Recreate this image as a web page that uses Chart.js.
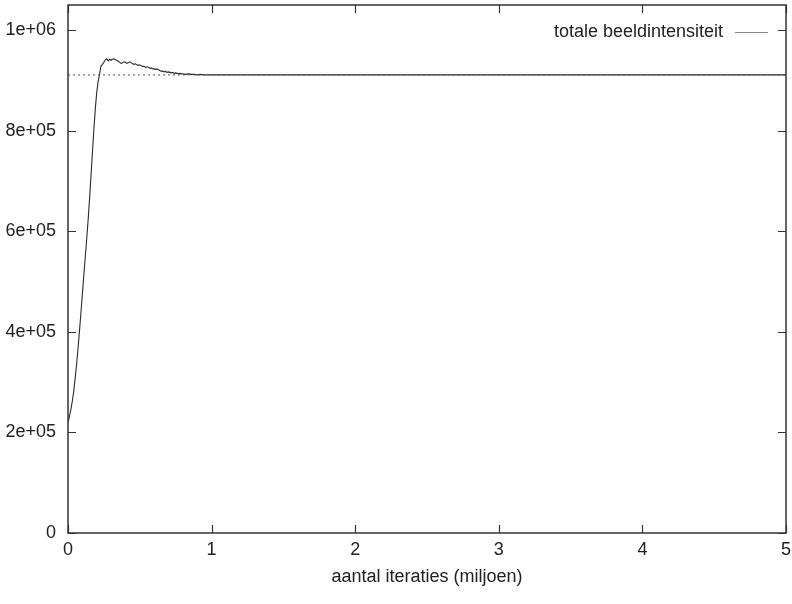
<!DOCTYPE html>
<html>
<head>
<meta charset="utf-8">
<script src="https://cdn.jsdelivr.net/npm/chart.js@4.4.1/dist/chart.umd.min.js"></script>
<style>
  html, body { margin: 0; padding: 0; background: #fff; }
</style>
</head>
<body>
<canvas id="chart" width="792" height="604"></canvas>
<script>
// x in millions of iterations, y = total image intensity
const iterations = [
  0, 0.01, 0.02, 0.03, 0.04, 0.05, 0.06, 0.07, 0.08, 0.09,
  0.10, 0.11, 0.12, 0.13, 0.14, 0.15, 0.16, 0.17, 0.18, 0.19,
  0.20, 0.21, 0.22, 0.23, 0.24, 0.25, 0.26, 0.27, 0.28, 0.29,
  0.30, 0.31, 0.32, 0.33, 0.34, 0.35, 0.36, 0.37, 0.38, 0.39,
  0.40, 0.41, 0.42, 0.43, 0.44, 0.45, 0.46, 0.47, 0.48, 0.49,
  0.50, 0.51, 0.52, 0.53, 0.54, 0.55, 0.56, 0.57, 0.58, 0.59,
  0.60, 0.61, 0.62, 0.63, 0.64, 0.65, 0.66, 0.67, 0.68, 0.69,
  0.70, 0.71, 0.72, 0.73, 0.74, 0.75, 0.76, 0.77, 0.78, 0.79,
  0.80, 0.82, 0.84, 0.86, 0.88, 0.90, 0.92, 0.94, 0.96, 0.98,
  1.0, 1.5, 2.0, 2.5, 3.0, 3.5, 4.0, 4.5, 5.0
];
const intensity = [
  220000, 232000, 246000, 262000, 282000, 308000, 336000, 368000, 402000, 438000,
  475000, 512000, 548000, 584000, 622000, 664000, 710000, 756000, 802000, 843000,
  876000, 898000, 913000, 929000, 932000, 936000, 941000, 943000, 939000, 942000,
  940000, 942000, 943000, 941000, 940000, 938000, 936000, 934000, 935000, 937000,
  936000, 934000, 935000, 937000, 935000, 933000, 932000, 933000, 931000, 930000,
  931000, 929000, 928000, 928000, 926000, 927000, 926000, 924000, 925000, 923000,
  923000, 922000, 923000, 921000, 920000, 918000, 919000, 917000, 918000, 916000,
  917000, 916000, 915000, 916000, 914000, 915000, 914000, 913000, 914000, 913000,
  913000, 912000, 913000, 912000, 912000, 911000, 912000, 911000, 911000, 911000,
  911000, 911000, 911000, 911000, 911000, 911000, 911000, 911000, 911000
];
const equilibriumLevel = 911000;
const xRange = [0, 5];

const xTicks = [0, 1, 2, 3, 4, 5];
const yTicks = [0, 200000, 400000, 600000, 800000, 1000000];
const yTickLabels = ["0", "2e+05", "4e+05", "6e+05", "8e+05", "1e+06"];

const seriesLabel = "totale beeldintensiteit";
const xTitle = "aantal iteraties (miljoen)";

const FONT = { family: "'Liberation Sans', Arial, Helvetica, sans-serif", size: 18 };
const INK = "#222";

// gnuplot style frame with inward ticks on all four sides, plus the key
const framePlugin = {
  id: "frame",
  afterDraw(chart) {
    const { ctx, chartArea: a, scales } = chart;
    const len = 8;
    ctx.save();
    ctx.strokeStyle = "#333";
    ctx.lineWidth = 1.2;
    ctx.beginPath();
    xTicks.forEach((v) => {
      const px = Math.round(scales.x.getPixelForValue(v)) + 0.5;
      ctx.moveTo(px, a.bottom);
      ctx.lineTo(px, a.bottom - len);
      ctx.moveTo(px, a.top);
      ctx.lineTo(px, a.top + len);
    });
    yTicks.forEach((v) => {
      const py = Math.round(scales.y.getPixelForValue(v)) + 0.5;
      ctx.moveTo(a.left, py);
      ctx.lineTo(a.left + len, py);
      ctx.moveTo(a.right, py);
      ctx.lineTo(a.right - len, py);
    });
    ctx.stroke();
    ctx.lineWidth = 1.5;
    ctx.strokeRect(a.left, a.top, a.right - a.left, a.bottom - a.top);

    // key, top right
    const ky = Math.round(scales.y.getPixelForValue(yTicks[5])) + 2.5;
    ctx.font = FONT.size + "px " + FONT.family;
    ctx.fillStyle = INK;
    ctx.textAlign = "right";
    ctx.textBaseline = "middle";
    ctx.fillText(seriesLabel, a.right - 63, ky);
    ctx.strokeStyle = "#888";
    ctx.lineWidth = 1.2;
    ctx.beginPath();
    ctx.moveTo(a.right - 51, ky);
    ctx.lineTo(a.right - 18, ky);
    ctx.stroke();
    ctx.restore();
  },
};

new Chart(document.getElementById("chart"), {
  type: "line",
  data: {
    datasets: [
      {
        label: "equilibrium",
        data: xRange.map((x) => ({ x, y: equilibriumLevel })),
        borderColor: "#555",
        borderWidth: 1,
        borderDash: [2, 3],
        pointRadius: 0,
      },
      {
        label: seriesLabel,
        data: iterations.map((x, i) => ({ x, y: intensity[i] })),
        borderColor: "#2a2a2a",
        borderWidth: 1.1,
        pointRadius: 0,
        tension: 0,
      },
    ],
  },
  options: {
    responsive: false,
    animation: false,
    layout: { padding: { top: 5, right: 6, left: 0, bottom: 0 } },
    plugins: {
      legend: { display: false },
      tooltip: { enabled: false },
    },
    scales: {
      x: {
        type: "linear",
        min: 0,
        max: 5,
        afterBuildTicks: (s) => {
          s.ticks = xTicks.map((v) => ({ value: v }));
        },
        afterFit: (s) => {
          s.height = 71;
          s.paddingLeft = 0;
          s.paddingRight = 0;
        },
        grid: { display: false, drawTicks: false },
        border: { display: false },
        ticks: {
          font: FONT,
          color: INK,
          padding: 6,
          maxRotation: 0,
          callback: (v) => String(v),
        },
        title: {
          display: true,
          text: xTitle,
          font: FONT,
          color: INK,
          padding: { top: 0, bottom: 16 },
        },
      },
      y: {
        type: "linear",
        min: 0,
        max: 1050000,
        afterBuildTicks: (s) => {
          s.ticks = yTicks.map((v) => ({ value: v }));
        },
        afterFit: (s) => {
          s.width = 68;
          s.paddingTop = 0;
          s.paddingBottom = 0;
        },
        grid: { display: false, drawTicks: false },
        border: { display: false },
        ticks: {
          font: FONT,
          color: INK,
          padding: 12,
          callback: (v) => yTickLabels[yTicks.indexOf(v)],
        },
      },
    },
  },
  plugins: [framePlugin],
});
</script>
</body>
</html>
